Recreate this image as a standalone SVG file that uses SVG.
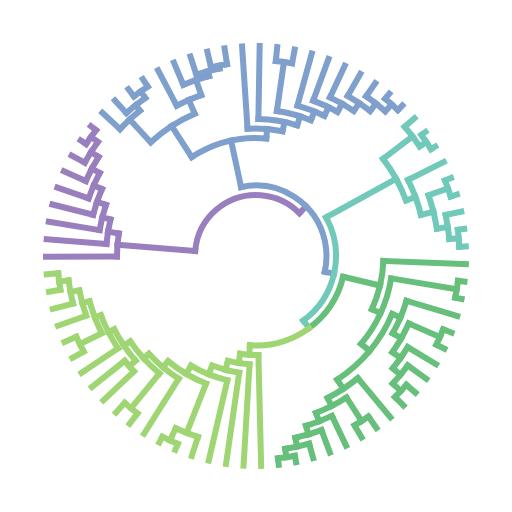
<svg xmlns="http://www.w3.org/2000/svg" width="512" height="512" viewBox="0 0 512 512">
<style>
#tree path,#tree circle{fill:none;stroke-width:6;stroke-linecap:square}
.p{stroke:#9a7fbf}.b{stroke:#7f9fcc}.c{stroke:#70c9b9}.g{stroke:#66bf7a}.l{stroke:#9fd673}
</style>
<rect width="512" height="512" fill="#fff"/>
<g id="tree" transform="translate(256 256)">
<g id="purple" class="p">
<circle r="61" stroke-dasharray="139.15 2000" transform="rotate(184.6)"/>
<path d="M61 0H139" transform="rotate(184.6)"/>
<path d="M61 0H70.5" transform="rotate(315.3)"/>
<circle r="139" stroke-dasharray="23.17 2000" transform="rotate(179.8)"/>
<path d="M139 0H210" transform="rotate(179.8)"/>
<path d="M139 0H150" transform="rotate(189.35)"/>
<circle r="150" stroke-dasharray="24.87 2000" transform="rotate(184.6)"/>
<path d="M150 0H210" transform="rotate(184.6)"/>
<path d="M150 0H158.5" transform="rotate(194.1)"/>
<circle r="158.5" stroke-dasharray="26.14 2000" transform="rotate(189.4)"/>
<path d="M158.5 0H210" transform="rotate(189.4)"/>
<path d="M158.5 0H168" transform="rotate(198.85)"/>
<circle r="168" stroke-dasharray="27.27 2000" transform="rotate(194.2)"/>
<path d="M168 0H210" transform="rotate(194.2)"/>
<path d="M168 0H177" transform="rotate(203.5)"/>
<circle r="177" stroke-dasharray="27.8 2000" transform="rotate(199)"/>
<path d="M177 0H210" transform="rotate(199)"/>
<path d="M177 0H186" transform="rotate(208)"/>
<circle r="186" stroke-dasharray="27.27 2000" transform="rotate(203.8)"/>
<path d="M186 0H210" transform="rotate(203.8)"/>
<path d="M186 0H195" transform="rotate(212.2)"/>
<circle r="195" stroke-dasharray="24.5 2000" transform="rotate(208.6)"/>
<path d="M195 0H210" transform="rotate(208.6)"/>
<path d="M195 0H203.5" transform="rotate(215.8)"/>
<circle r="203.5" stroke-dasharray="17.05 2000" transform="rotate(213.4)"/>
<path d="M203.5 0H210" transform="rotate(213.4)"/>
<path d="M203.5 0H210" transform="rotate(218.2)"/>
</g>
<g id="blue" class="b">
<circle r="70.5" stroke-dasharray="141.5 2000" transform="rotate(257.8)"/>
<path d="M70.5 0H118" transform="rotate(257.8)"/>
<path d="M70.5 0H80" transform="rotate(12.8)"/>
<circle r="118" stroke-dasharray="78.26 2000" transform="rotate(237)"/>
<path d="M118 0H155" transform="rotate(237)"/>
<circle r="155" stroke-dasharray="52.75 2000" transform="rotate(227.2)"/>
<path d="M155 0H186" transform="rotate(227.2)"/>
<circle r="186" stroke-dasharray="27.27 2000" transform="rotate(223)"/>
<path d="M186 0H210" transform="rotate(223)"/>
<path d="M186 0H193" transform="rotate(231.4)"/>
<circle r="193" stroke-dasharray="24.25 2000" transform="rotate(227.8)"/>
<path d="M193 0H210" transform="rotate(227.8)"/>
<path d="M193 0H201" transform="rotate(235)"/>
<circle r="201" stroke-dasharray="16.84 2000" transform="rotate(232.6)"/>
<path d="M201 0H210" transform="rotate(232.6)"/>
<path d="M201 0H210" transform="rotate(237.4)"/>
<path d="M155 0H170" transform="rotate(246.7)"/>
<circle r="170" stroke-dasharray="26.7 2000" transform="rotate(242.2)"/>
<path d="M170 0H210" transform="rotate(242.2)"/>
<path d="M170 0H186" transform="rotate(251.2)"/>
<circle r="186" stroke-dasharray="27.27 2000" transform="rotate(247)"/>
<path d="M186 0H210" transform="rotate(247)"/>
<path d="M186 0H191" transform="rotate(255.4)"/>
<circle r="191" stroke-dasharray="24 2000" transform="rotate(251.8)"/>
<path d="M191 0H210" transform="rotate(251.8)"/>
<path d="M191 0H194" transform="rotate(259)"/>
<circle r="194" stroke-dasharray="16.25 2000" transform="rotate(256.6)"/>
<path d="M194 0H210" transform="rotate(256.6)"/>
<path d="M194 0H210" transform="rotate(261.4)"/>
<path d="M118 0H127.5" transform="rotate(275)"/>
<circle r="127.5" stroke-dasharray="35.16 2000" transform="rotate(266.2)"/>
<path d="M127.5 0H210" transform="rotate(266.2)"/>
<path d="M127.5 0H137" transform="rotate(282)"/>
<circle r="137" stroke-dasharray="39.45 2000" transform="rotate(271)"/>
<path d="M137 0H210" transform="rotate(271)"/>
<path d="M137 0H146.5" transform="rotate(287.5)"/>
<circle r="146.5" stroke-dasharray="35.29 2000" transform="rotate(278.2)"/>
<path d="M146.5 0H196" transform="rotate(278.2)"/>
<circle r="196" stroke-dasharray="16.42 2000" transform="rotate(275.8)"/>
<path d="M196 0H210" transform="rotate(275.8)"/>
<path d="M196 0H210" transform="rotate(280.6)"/>
<path d="M146.5 0H156" transform="rotate(292)"/>
<circle r="156" stroke-dasharray="28.86 2000" transform="rotate(285.4)"/>
<path d="M156 0H210" transform="rotate(285.4)"/>
<path d="M156 0H165.5" transform="rotate(296)"/>
<circle r="165.5" stroke-dasharray="26.86 2000" transform="rotate(290.2)"/>
<path d="M165.5 0H210" transform="rotate(290.2)"/>
<path d="M165.5 0H175" transform="rotate(299.5)"/>
<circle r="175" stroke-dasharray="27.49 2000" transform="rotate(295)"/>
<path d="M175 0H210" transform="rotate(295)"/>
<path d="M175 0H184.5" transform="rotate(304)"/>
<circle r="184.5" stroke-dasharray="27.05 2000" transform="rotate(299.8)"/>
<path d="M184.5 0H210" transform="rotate(299.8)"/>
<path d="M184.5 0H194" transform="rotate(308.2)"/>
<circle r="194" stroke-dasharray="24.38 2000" transform="rotate(304.6)"/>
<path d="M194 0H210" transform="rotate(304.6)"/>
<path d="M194 0H203.5" transform="rotate(311.8)"/>
<circle r="203.5" stroke-dasharray="17.05 2000" transform="rotate(309.4)"/>
<path d="M203.5 0H210" transform="rotate(309.4)"/>
<path d="M203.5 0H210" transform="rotate(314.2)"/>
</g>
<g id="teal" class="c">
<circle r="80" stroke-dasharray="115.19 2000" transform="rotate(331.15)"/>
<path d="M80 0H89.5" transform="rotate(53.65)"/>
<path d="M80 0H160" transform="rotate(331.15)"/>
<circle r="160" stroke-dasharray="47.75 2000" transform="rotate(322.6)"/>
<path d="M160 0H197" transform="rotate(322.6)"/>
<circle r="197" stroke-dasharray="24.76 2000" transform="rotate(319)"/>
<path d="M197 0H210" transform="rotate(319)"/>
<path d="M197 0H205" transform="rotate(326.2)"/>
<circle r="205" stroke-dasharray="17.17 2000" transform="rotate(323.8)"/>
<path d="M205 0H210" transform="rotate(323.8)"/>
<path d="M205 0H210" transform="rotate(328.6)"/>
<path d="M160 0H170" transform="rotate(339.7)"/>
<circle r="170" stroke-dasharray="37.38 2000" transform="rotate(333.4)"/>
<path d="M170 0H210" transform="rotate(333.4)"/>
<path d="M170 0H183" transform="rotate(346)"/>
<circle r="183" stroke-dasharray="34.49 2000" transform="rotate(340.6)"/>
<path d="M183 0H203.5" transform="rotate(340.6)"/>
<circle r="203.5" stroke-dasharray="17.05 2000" transform="rotate(338.2)"/>
<path d="M203.5 0H210" transform="rotate(338.2)"/>
<path d="M203.5 0H210" transform="rotate(343)"/>
<path d="M183 0H194" transform="rotate(351.4)"/>
<circle r="194" stroke-dasharray="24.38 2000" transform="rotate(347.8)"/>
<path d="M194 0H210" transform="rotate(347.8)"/>
<path d="M194 0H203.5" transform="rotate(355)"/>
<circle r="203.5" stroke-dasharray="17.05 2000" transform="rotate(352.6)"/>
<path d="M203.5 0H210" transform="rotate(352.6)"/>
<path d="M203.5 0H210" transform="rotate(357.4)"/>
</g>
<g id="darkgreen" class="g">
<circle r="89.5" stroke-dasharray="62.87 2000" transform="rotate(13.4)"/>
<path d="M89.5 0H127.5" transform="rotate(13.4)"/>
<circle r="127.5" stroke-dasharray="49.96 2000" transform="rotate(2.2)"/>
<path d="M127.5 0H210" transform="rotate(2.2)"/>
<path d="M127.5 0H137" transform="rotate(24.65)"/>
<circle r="137" stroke-dasharray="72.93 2000" transform="rotate(9.4)"/>
<path d="M137 0H203.5" transform="rotate(9.4)"/>
<circle r="203.5" stroke-dasharray="17.05 2000" transform="rotate(7)"/>
<path d="M203.5 0H210" transform="rotate(7)"/>
<path d="M203.5 0H210" transform="rotate(11.8)"/>
<path d="M137 0H148" transform="rotate(39.9)"/>
<circle r="148" stroke-dasharray="86.92 2000" transform="rotate(23.05)"/>
<path d="M148 0H157" transform="rotate(23.05)"/>
<circle r="157" stroke-dasharray="35.35 2000" transform="rotate(16.6)"/>
<path d="M157 0H210" transform="rotate(16.6)"/>
<path d="M157 0H167" transform="rotate(29.5)"/>
<circle r="167" stroke-dasharray="33.23 2000" transform="rotate(23.8)"/>
<path d="M167 0H201" transform="rotate(23.8)"/>
<circle r="201" stroke-dasharray="16.84 2000" transform="rotate(21.4)"/>
<path d="M201 0H210" transform="rotate(21.4)"/>
<path d="M201 0H210" transform="rotate(26.2)"/>
<path d="M167 0H177" transform="rotate(35.2)"/>
<circle r="177" stroke-dasharray="25.95 2000" transform="rotate(31)"/>
<path d="M177 0H210" transform="rotate(31)"/>
<path d="M177 0H187" transform="rotate(39.4)"/>
<circle r="187" stroke-dasharray="23.5 2000" transform="rotate(35.8)"/>
<path d="M187 0H210" transform="rotate(35.8)"/>
<path d="M187 0H198" transform="rotate(43)"/>
<circle r="198" stroke-dasharray="16.59 2000" transform="rotate(40.6)"/>
<path d="M198 0H210" transform="rotate(40.6)"/>
<path d="M198 0H210" transform="rotate(45.4)"/>
<path d="M148 0H159" transform="rotate(56.7)"/>
<circle r="159" stroke-dasharray="36.22 2000" transform="rotate(50.2)"/>
<path d="M159 0H210" transform="rotate(50.2)"/>
<path d="M159 0H168" transform="rotate(63.25)"/>
<circle r="168" stroke-dasharray="34.31 2000" transform="rotate(57.4)"/>
<path d="M168 0H196" transform="rotate(57.4)"/>
<circle r="196" stroke-dasharray="16.42 2000" transform="rotate(55)"/>
<path d="M196 0H210" transform="rotate(55)"/>
<path d="M196 0H210" transform="rotate(59.8)"/>
<path d="M168 0H177" transform="rotate(69.1)"/>
<circle r="177" stroke-dasharray="27.8 2000" transform="rotate(64.6)"/>
<path d="M177 0H210" transform="rotate(64.6)"/>
<path d="M177 0H186" transform="rotate(73.6)"/>
<circle r="186" stroke-dasharray="27.27 2000" transform="rotate(69.4)"/>
<path d="M186 0H210" transform="rotate(69.4)"/>
<path d="M186 0H195" transform="rotate(77.8)"/>
<circle r="195" stroke-dasharray="24.5 2000" transform="rotate(74.2)"/>
<path d="M195 0H210" transform="rotate(74.2)"/>
<path d="M195 0H203.5" transform="rotate(81.4)"/>
<circle r="203.5" stroke-dasharray="17.05 2000" transform="rotate(79)"/>
<path d="M203.5 0H210" transform="rotate(79)"/>
<path d="M203.5 0H210" transform="rotate(83.8)"/>
</g>
<g id="lightgreen" class="l">
<circle r="89.5" stroke-dasharray="62.87 2000" transform="rotate(53.65)"/>
<path d="M89.5 0H99" transform="rotate(93.9)"/>
<circle r="99" stroke-dasharray="18.32 2000" transform="rotate(88.6)"/>
<path d="M99 0H210" transform="rotate(88.6)"/>
<path d="M99 0H108.5" transform="rotate(99.2)"/>
<circle r="108.5" stroke-dasharray="21.97 2000" transform="rotate(93.4)"/>
<path d="M108.5 0H210" transform="rotate(93.4)"/>
<path d="M108.5 0H118" transform="rotate(105)"/>
<circle r="118" stroke-dasharray="28.01 2000" transform="rotate(98.2)"/>
<path d="M118 0H210" transform="rotate(98.2)"/>
<path d="M118 0H127.5" transform="rotate(111.8)"/>
<circle r="127.5" stroke-dasharray="39.28 2000" transform="rotate(103)"/>
<path d="M127.5 0H210" transform="rotate(103)"/>
<path d="M127.5 0H137" transform="rotate(120.65)"/>
<circle r="137" stroke-dasharray="44.24 2000" transform="rotate(111.4)"/>
<path d="M137 0H190" transform="rotate(111.4)"/>
<circle r="190" stroke-dasharray="23.88 2000" transform="rotate(107.8)"/>
<path d="M190 0H210" transform="rotate(107.8)"/>
<path d="M190 0H203.5" transform="rotate(115)"/>
<circle r="203.5" stroke-dasharray="17.05 2000" transform="rotate(112.6)"/>
<path d="M203.5 0H210" transform="rotate(112.6)"/>
<path d="M203.5 0H210" transform="rotate(117.4)"/>
<path d="M137 0H145" transform="rotate(129.9)"/>
<circle r="145" stroke-dasharray="38.97 2000" transform="rotate(122.2)"/>
<path d="M145 0H210" transform="rotate(122.2)"/>
<path d="M145 0H152" transform="rotate(137.6)"/>
<circle r="152" stroke-dasharray="43.51 2000" transform="rotate(129.4)"/>
<path d="M152 0H197" transform="rotate(129.4)"/>
<circle r="197" stroke-dasharray="16.5 2000" transform="rotate(127)"/>
<path d="M197 0H210" transform="rotate(127)"/>
<path d="M197 0H210" transform="rotate(131.8)"/>
<path d="M152 0H159.5" transform="rotate(145.8)"/>
<circle r="159.5" stroke-dasharray="38 2000" transform="rotate(139)"/>
<path d="M159.5 0H168" transform="rotate(139)"/>
<circle r="168" stroke-dasharray="14.08 2000" transform="rotate(136.6)"/>
<path d="M168 0H210" transform="rotate(136.6)"/>
<path d="M168 0H210" transform="rotate(141.4)"/>
<path d="M159.5 0H166" transform="rotate(152.65)"/>
<circle r="166" stroke-dasharray="37.37 2000" transform="rotate(146.2)"/>
<path d="M166 0H210" transform="rotate(146.2)"/>
<path d="M166 0H172.5" transform="rotate(159.1)"/>
<circle r="172.5" stroke-dasharray="34.32 2000" transform="rotate(153.4)"/>
<path d="M172.5 0H197" transform="rotate(153.4)"/>
<circle r="197" stroke-dasharray="16.5 2000" transform="rotate(151)"/>
<path d="M197 0H210" transform="rotate(151)"/>
<path d="M197 0H210" transform="rotate(155.8)"/>
<path d="M172.5 0H180" transform="rotate(164.8)"/>
<circle r="180" stroke-dasharray="26.39 2000" transform="rotate(160.6)"/>
<path d="M180 0H210" transform="rotate(160.6)"/>
<path d="M180 0H189" transform="rotate(169)"/>
<circle r="189" stroke-dasharray="23.75 2000" transform="rotate(165.4)"/>
<path d="M189 0H210" transform="rotate(165.4)"/>
<path d="M189 0H198.5" transform="rotate(172.6)"/>
<circle r="198.5" stroke-dasharray="16.63 2000" transform="rotate(170.2)"/>
<path d="M198.5 0H210" transform="rotate(170.2)"/>
<path d="M198.5 0H210" transform="rotate(175)"/>
</g>
</g>
</svg>
